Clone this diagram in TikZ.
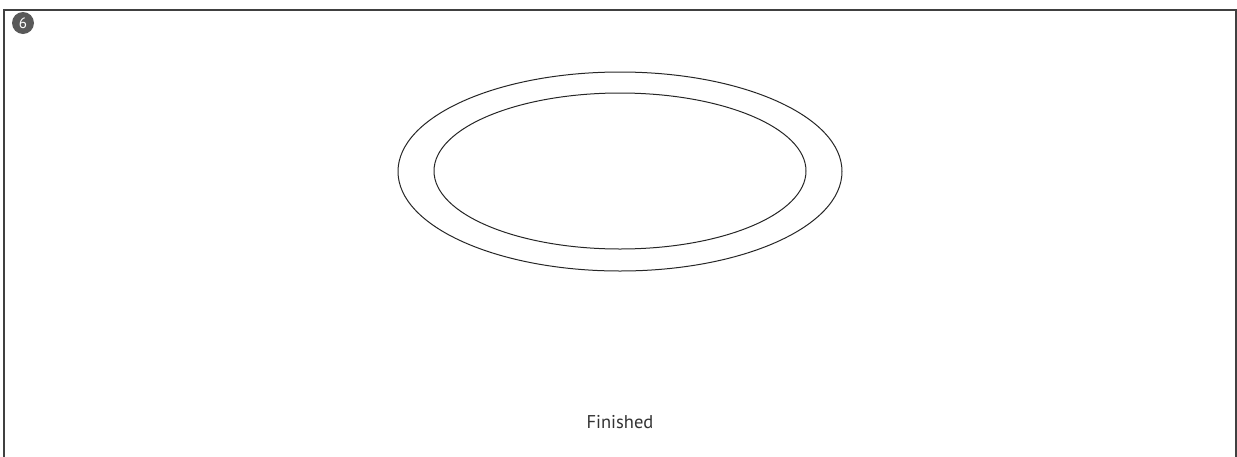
\documentclass[tikz,border=0pt]{standalone}
\usepackage{fontspec}
\setmainfont{PT Sans}
\usetikzlibrary{shapes.geometric}
\begin{document}
\begin{tikzpicture}[x=1pt,y=-1pt,
  ring/.style={ellipse, draw=black!85, line width=1pt, inner sep=0pt},
  badge/.style={circle, fill=black!65, text=white, inner sep=0pt, minimum size=22pt, font=\fontsize{15}{15}\selectfont},
  caption/.style={text=black!80, font=\fontsize{18.5}{18.5}\selectfont}]
\useasboundingbox (0,0) rectangle (1237,456);
\draw[draw=black!75, line width=1.2pt] (4,458) -- (4,10) -- (1236,10) -- (1236,458);
\node[badge] (b) at (23,23) {6};
\node[ring, minimum width=444pt, minimum height=199pt] (outer) at (620,171.5) {};
\node[ring, minimum width=372pt, minimum height=156pt] (inner) at (620,171) {};
\node[caption] (t) at (620,422) {Finished};
\end{tikzpicture}
\end{document}
